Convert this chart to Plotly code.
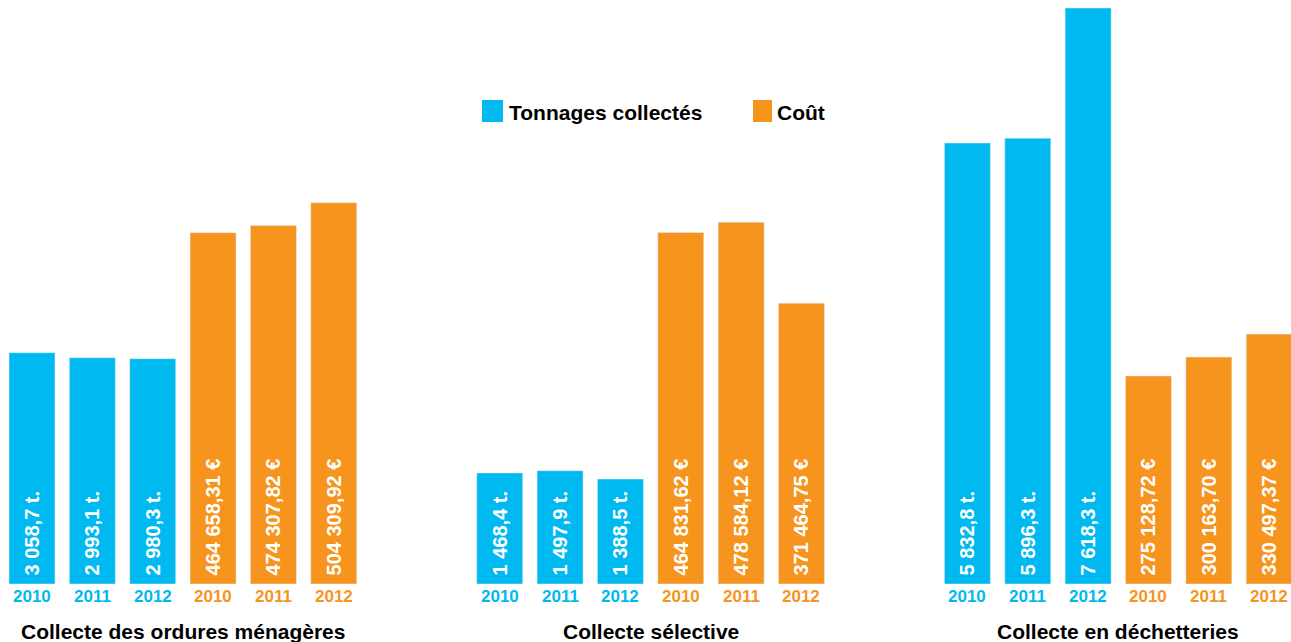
import plotly.graph_objects as go

groups = ["Collecte des ordures ménagères", "Collecte sélective", "Collecte en déchetteries"]
years = ["2010", "2011", "2012"]
tonnages = [
    [3058.7, 2993.1, 2980.3],
    [1468.4, 1497.9, 1388.5],
    [5832.8, 5896.3, 7618.3],
]
couts = [
    [464658.31, 474307.82, 504309.92],
    [464831.62, 478584.12, 371464.75],
    [275128.72, 300163.70, 330497.37],
]

BLUE = "#00B9F1"
ORANGE = "#F7941D"
FONT = "Liberation Sans, Arial, sans-serif"
GROUP_STEP = 7.75

W, H = 1291, 642
TOP, BOTTOM = 8, 584
PLOT_H = BOTTOM - TOP


def fr(v, dec):
    s = f"{v:,.{dec}f}"
    return s.replace(",", " ").replace(".", ",")


bx, by, bt, ox, oy, ot = [], [], [], [], [], []
for g in range(len(groups)):
    for i in range(len(years)):
        bx.append(g * GROUP_STEP + i)
        by.append(tonnages[g][i])
        bt.append("\u00a0" + fr(tonnages[g][i], 1) + " t.")
        ox.append(g * GROUP_STEP + 3 + i)
        oy.append(couts[g][i])
        ot.append("\u00a0" + fr(couts[g][i], 2) + " €")

fig = go.Figure()
common = dict(
    width=0.762,
    textposition="inside",
    insidetextanchor="start",
    textangle=-90,
    textfont=dict(family=FONT, size=20, color="white", weight="bold"),
    constraintext="none",
    hoverinfo="skip",
)
fig.add_trace(go.Bar(x=bx, y=by, text=bt, marker_color=BLUE, name="Tonnages collectés", yaxis="y", **common))
fig.add_trace(go.Bar(x=ox, y=oy, text=ot, marker_color=ORANGE, name="Coût", yaxis="y2", **common))

ymax = max(max(r) for r in tonnages)
annotations = []
for g, gname in enumerate(groups):
    for i, yr in enumerate(years):
        for off, col in ((0, BLUE), (3, ORANGE)):
            annotations.append(dict(
                x=g * GROUP_STEP + off + i, y=0, xref="x", yref="y", text=yr,
                showarrow=False, yanchor="middle", yshift=-12,
                font=dict(family=FONT, size=17, color=col, weight="bold"),
            ))
    annotations.append(dict(
        x=g * GROUP_STEP + 2.5, y=0, xref="x", yref="y", text=gname,
        showarrow=False, yanchor="middle", yshift=-47,
        font=dict(family=FONT, size=21, color="black", weight="bold"),
    ))

# legend (drawn)
ly = (BOTTOM - 112) / PLOT_H
annotations.append(dict(x=507 / W, y=ly, xref="paper", yref="paper",
                        text="Tonnages collectés", showarrow=False, xanchor="left", yanchor="middle",
                        font=dict(family=FONT, size=21, color="black", weight="bold")))
annotations.append(dict(x=775 / W, y=ly, xref="paper", yref="paper",
                        text="Coût", showarrow=False, xanchor="left", yanchor="middle",
                        font=dict(family=FONT, size=21, color="black", weight="bold")))
sy0 = (BOTTOM - 122) / PLOT_H
sy1 = (BOTTOM - 100) / PLOT_H
shapes = [
    dict(type="rect", xref="paper", yref="paper", x0=482 / W, x1=503 / W,
         y0=sy0, y1=sy1, fillcolor=BLUE, line_width=0),
    dict(type="rect", xref="paper", yref="paper", x0=753 / W, x1=772 / W,
         y0=sy0, y1=sy1, fillcolor=ORANGE, line_width=0),
]

PX = 60.35
fig.update_layout(
    width=W, height=H,
    margin=dict(l=0, r=0, t=TOP, b=H - BOTTOM),
    paper_bgcolor="white", plot_bgcolor="white",
    showlegend=False,
    barmode="overlay",
    xaxis=dict(range=[-32 / PX, (W - 32) / PX], visible=False, fixedrange=True),
    yaxis=dict(range=[0, ymax], visible=False, fixedrange=True),
    yaxis2=dict(range=[0, ymax * 100], visible=False, overlaying="y", fixedrange=True),
    annotations=annotations,
    shapes=shapes,
)

fig.write_html(
    "out.html",
    config={"displayModeBar": False},
    post_script="document.body.style.margin='0';document.body.style.overflow='hidden';",
)
